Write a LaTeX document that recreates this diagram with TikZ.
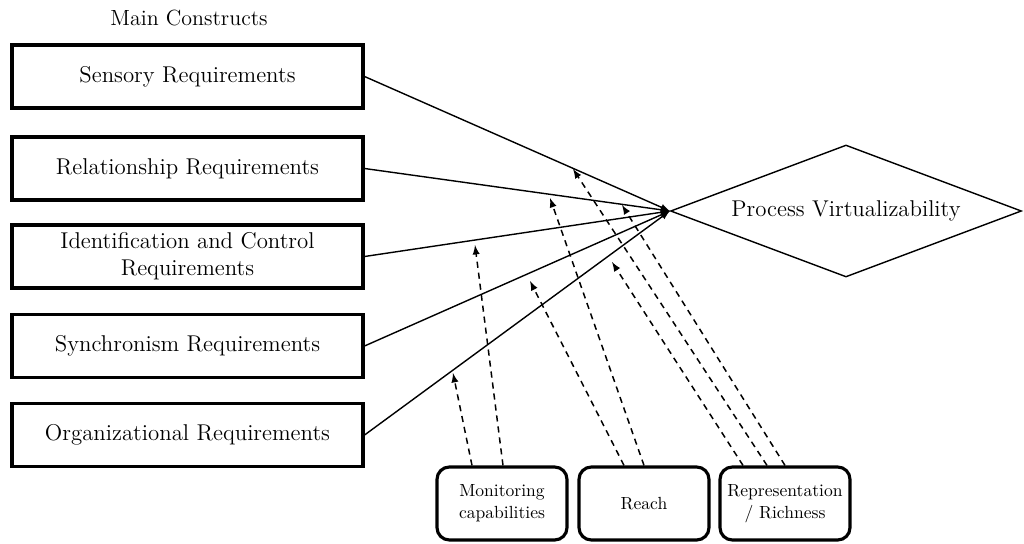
\documentclass[tikz,border=0pt]{standalone}
\usepackage{amsmath,amssymb}
\usepackage{tikz}
\usetikzlibrary{shapes}
\usetikzlibrary{shapes.geometric}

\begin{document}
\begin{tikzpicture}[x = 0.02cm, y = -0.02cm,
  construct/.style = {draw, line width = 1.8pt, minimum width = 7.02cm, minimum height = 1.26cm, align = center, inner sep = 0, font = \fontsize{13}{15.5}\selectfont},
  capab/.style = {draw, line width = 1.8pt, rounded corners = 7pt, minimum width = 2.6cm, minimum height = 1.46cm, align = center, inner sep = 0, font = \fontsize{10}{12.5}\selectfont},
  link/.style = {-latex, line width = .8pt},
  infl/.style = {-latex, line width = .85pt, dash pattern = on 3.5pt off 2.8pt}]
 \useasboundingbox (0, 0) rectangle (1024, 544);
  \node (title) at (189, 18) {\fontsize{12.5}{15}\selectfont Main Constructs};
  % constructs on the left
  \node [construct] (sens) at (187.5, 76.5) {Sensory Requirements};
  \node [construct] (rel) at (187.5, 168.5) {Relationship Requirements};
  \node [construct] (ident) at (187.5, 256.5) {Identification and Control\\Requirements};
  \node [construct] (sync) at (187.5, 346) {Synchronism Requirements};
  \node [construct] (org) at (187.5, 435) {Organizational Requirements};
  % outcome
  \node [draw, diamond, aspect = 2.7, line width = .8pt, minimum width = 7.02cm, minimum height = 2.64cm, inner sep = 0, font = \fontsize{13}{15.5}\selectfont] (pv) at (846, 211) {Process Virtualizability};
  \draw [link] (sens.east) -- (pv.west);
  \draw [link] (rel.east) -- (pv.west);
  \draw [link] (ident.east) -- (pv.west);
  \draw [link] (sync.east) -- (pv.west);
  \draw [link] (org.east) -- (pv.west);
  % IT capabilities
  \node [capab] (mon) at (502, 503.5) {Monitoring\\capabilities};
  \node [capab] (reach) at (644, 503.5) {Reach};
  \node [capab] (rep) at (785, 503.5) {Representation\\/ Richness};
  \coordinate (t1) at (453, 373);
  \coordinate (t2) at (475, 245);
  \coordinate (t3) at (530, 281);
  \coordinate (t4) at (550, 198);
  \coordinate (t5) at (612, 262);
  \coordinate (t6) at (573, 169);
  \coordinate (t7) at (622, 205);
  \draw [infl] ([xshift = -.6cm]mon.north) -- (t1);
  \draw [infl] ([xshift = .02cm]mon.north) -- (t2);
  \draw [infl] ([xshift = -.4cm]reach.north) -- (t3);
  \draw [infl] (reach.north) -- (t4);
  \draw [infl] ([xshift = -.84cm]rep.north) -- (t5);
  \draw [infl] ([xshift = -.36cm]rep.north) -- (t6);
  \draw [infl] (rep.north) -- (t7);
 \end{tikzpicture}
\end{document}
